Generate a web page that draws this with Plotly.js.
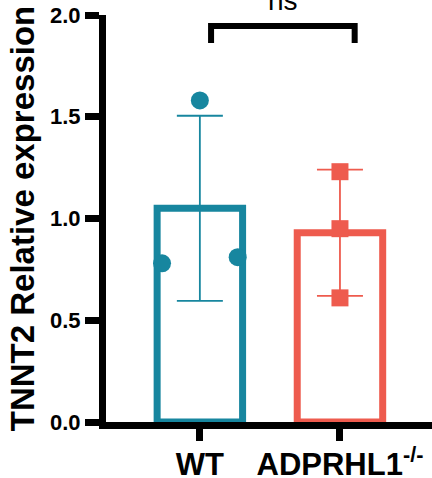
<!DOCTYPE html>
<html>
<head>
<meta charset="utf-8">
<script src="https://cdn.plot.ly/plotly-3.0.1.min.js"></script>
<style>html,body{margin:0;padding:0;background:#fff;}#chart{width:432px;height:478px;}</style>
</head>
<body>
<div id="chart"></div>
<script>
// ---- data ----
const categories = ['WT', 'ADPRHL1<sup>-/-</sup>'];
const means = [1.05, 0.93];
const sds = [0.455, 0.31];
const wtPoints = [0.78, 1.58, 0.81];
const koPoints = [1.23, 0.95, 0.61];
const yTickVals = [0, 0.5, 1.0, 1.5, 2.0];
const yTitle = 'TNNT2 Relative expression';
const sigLabel = 'ns';

// ---- style ----
const colors = ['#17869f', '#ee5b4e'];
const wtJitter = [-0.27, 0, 0.27];
const koJitter = [0, 0, 0];
const font = 'Liberation Sans, Arial, sans-serif';

const traces = [];
[0, 1].forEach(i => {
  traces.push({
    type: 'bar', x: [i], y: [means[i]], width: 0.61,
    marker: {color: 'rgba(255,255,255,0)', line: {color: colors[i], width: 7}},
    error_y: {type: 'data', array: [sds[i]], visible: true, color: colors[i], thickness: 1.8, width: 23},
    hoverinfo: 'skip'
  });
});
traces.push({
  type: 'scatter', mode: 'markers', x: wtJitter.map(d => 0 + d), y: wtPoints,
  marker: {symbol: 'circle', size: 18, color: colors[0]}, cliponaxis: false
});
traces.push({
  type: 'scatter', mode: 'markers', x: koJitter.map(d => 1 + d), y: koPoints,
  marker: {symbol: 'square', size: 17, color: colors[1]}, cliponaxis: false
});

const bracket = {x0: 0.08, x1: 1.105, yTop: 1.946, yBot: 1.862};

const layout = {
  width: 432, height: 478,
  margin: {l: 106, r: 0, t: 15, b: 56},
  paper_bgcolor: '#fff', plot_bgcolor: '#fff',
  showlegend: false, barmode: 'overlay',
  xaxis: {
    range: [-0.67, 1.657], tickvals: [0, 1], ticktext: categories,
    showgrid: false, zeroline: false, showline: true, linecolor: '#000', linewidth: 7,
    ticks: 'outside', ticklen: 12, tickwidth: 7, tickcolor: '#000',
    ticklabelstandoff: -3,
    tickfont: {family: font, size: 31, color: '#000', weight: 'bold'}
  },
  yaxis: {
    range: [0, 2.0], tickvals: yTickVals, tickformat: '.1f',
    showgrid: false, zeroline: false, showline: true, linecolor: '#000', linewidth: 7,
    ticks: 'outside', ticklen: 14, tickwidth: 7, tickcolor: '#000',
    tickfont: {family: font, size: 22, color: '#000', weight: 'bold'},
    title: {text: yTitle, font: {family: font, size: 33, color: '#000', weight: 'bold'}, standoff: 8}
  },
  shapes: [{
    type: 'path', xref: 'x', yref: 'y',
    path: `M ${bracket.x0} ${bracket.yBot} L ${bracket.x0} ${bracket.yTop} L ${bracket.x1} ${bracket.yTop} L ${bracket.x1} ${bracket.yBot}`,
    line: {color: '#000', width: 6}
  }],
  annotations: [{
    xref: 'x', yref: 'y', x: (bracket.x0 + bracket.x1) / 2, y: bracket.yTop,
    yanchor: 'bottom', yshift: 8, text: sigLabel, showarrow: false,
    font: {family: font, size: 28, color: '#000'}
  }]
};

Plotly.newPlot('chart', traces, layout, {staticPlot: true, displayModeBar: false});
</script>
</body>
</html>
